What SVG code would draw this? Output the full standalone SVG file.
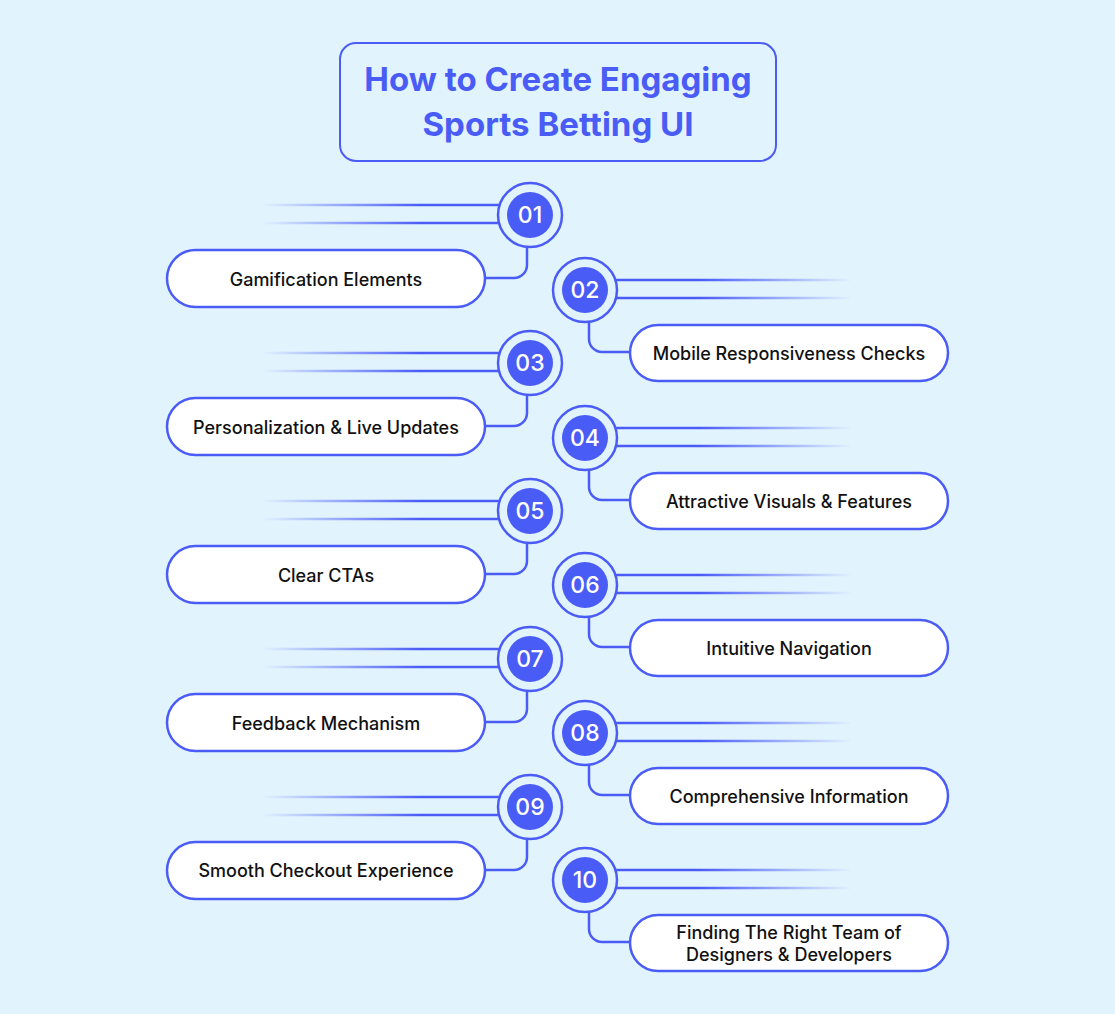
<svg xmlns="http://www.w3.org/2000/svg" width="1115" height="1014" viewBox="0 0 1115 1014">
<defs>
<linearGradient id="gl" gradientUnits="userSpaceOnUse" x1="262" y1="0" x2="420" y2="0">
<stop offset="0" stop-color="#4b5cf6" stop-opacity="0"/>
<stop offset="1" stop-color="#4b5cf6" stop-opacity="1"/>
</linearGradient>
<linearGradient id="gr" gradientUnits="userSpaceOnUse" x1="700" y1="0" x2="852" y2="0">
<stop offset="0" stop-color="#4b5cf6" stop-opacity="1"/>
<stop offset="1" stop-color="#4b5cf6" stop-opacity="0"/>
</linearGradient>
<style>
.bg{fill:#e1f3fd}
.title{font-family:Inter,"Liberation Sans",sans-serif;font-weight:700;font-size:33px;fill:#4a5cf6;text-anchor:middle}
.tbox{fill:#e1f3fd;stroke:#4b5cf6;stroke-width:2}
.pill{fill:#ffffff;stroke:#4b5cf6;stroke-width:2.5}
.lbl{font-family:Inter,"Liberation Sans",sans-serif;font-weight:500;font-size:18px;fill:#111111;text-anchor:middle;dominant-baseline:central}
.ring{fill:#e1f3fd;stroke:#4b5cf6;stroke-width:2.5}
.dot{fill:#4a5cf6}
.num{font-family:Inter,"Liberation Sans",sans-serif;font-weight:500;font-size:23px;fill:#ffffff;text-anchor:middle;dominant-baseline:central}
.ll{stroke:url(#gl);stroke-width:2.5;fill:none}
.rl{stroke:url(#gr);stroke-width:2.5;fill:none}
.conn{stroke:#4b5cf6;stroke-width:2.5;fill:none}
</style>
</defs>
<rect class="bg" x="0" y="0" width="1115" height="1014"/>
<g id="title">
<rect class="tbox" x="340" y="43" width="436" height="118" rx="16"/>
<text class="title" x="558" y="91">How to Create Engaging</text>
<text class="title" x="558" y="136">Sports Betting UI</text>
</g>
<g id="connectors">
<line class="ll" x1="262" y1="205" x2="500" y2="205"/><line class="ll" x1="262" y1="223" x2="500" y2="223"/>
<path class="conn" d="M527 247 V265 A13 13 0 0 1 514 278 H485"/>
<line class="ll" x1="262" y1="353" x2="500" y2="353"/><line class="ll" x1="262" y1="371" x2="500" y2="371"/>
<path class="conn" d="M527 395 V413 A13 13 0 0 1 514 426 H485"/>
<line class="ll" x1="262" y1="501" x2="500" y2="501"/><line class="ll" x1="262" y1="519" x2="500" y2="519"/>
<path class="conn" d="M527 543 V561 A13 13 0 0 1 514 574 H485"/>
<line class="ll" x1="262" y1="649" x2="500" y2="649"/><line class="ll" x1="262" y1="667" x2="500" y2="667"/>
<path class="conn" d="M527 691 V709 A13 13 0 0 1 514 722 H485"/>
<line class="ll" x1="262" y1="797" x2="500" y2="797"/><line class="ll" x1="262" y1="815" x2="500" y2="815"/>
<path class="conn" d="M527 839 V857 A13 13 0 0 1 514 870 H485"/>

<line class="rl" x1="615" y1="280" x2="852" y2="280"/><line class="rl" x1="615" y1="298" x2="852" y2="298"/>
<path class="conn" d="M589 322 V339 A13 13 0 0 0 602 352 H630"/>
<line class="rl" x1="615" y1="428" x2="852" y2="428"/><line class="rl" x1="615" y1="446" x2="852" y2="446"/>
<path class="conn" d="M589 470 V487 A13 13 0 0 0 602 500 H630"/>
<line class="rl" x1="615" y1="575" x2="852" y2="575"/><line class="rl" x1="615" y1="593" x2="852" y2="593"/>
<path class="conn" d="M589 617 V634 A13 13 0 0 0 602 647 H630"/>
<line class="rl" x1="615" y1="723" x2="852" y2="723"/><line class="rl" x1="615" y1="741" x2="852" y2="741"/>
<path class="conn" d="M589 765 V782 A13 13 0 0 0 602 795 H630"/>
<line class="rl" x1="615" y1="870" x2="852" y2="870"/><line class="rl" x1="615" y1="888" x2="852" y2="888"/>
<path class="conn" d="M589 912 V929 A13 13 0 0 0 602 942 H630"/>
</g>

<g id="node01">
<circle class="ring" cx="530" cy="215" r="32"/><circle class="dot" cx="530" cy="215" r="23"/><text class="num" x="530" y="215">01</text>
<rect class="pill" x="167" y="250" width="318" height="57" rx="28.5"/><text class="lbl" x="326" y="279">Gamification Elements</text>
</g>
<g id="node02">
<circle class="ring" cx="585" cy="290" r="32"/><circle class="dot" cx="585" cy="290" r="23"/><text class="num" x="585" y="290">02</text>
<rect class="pill" x="630" y="325" width="318" height="56" rx="28"/><text class="lbl" x="789" y="353">Mobile Responsiveness Checks</text>
</g>
<g id="node03">
<circle class="ring" cx="530" cy="363" r="32"/><circle class="dot" cx="530" cy="363" r="23"/><text class="num" x="530" y="363">03</text>
<rect class="pill" x="167" y="398" width="318" height="57" rx="28.5"/><text class="lbl" x="326" y="427">Personalization &amp; Live Updates</text>
</g>
<g id="node04">
<circle class="ring" cx="585" cy="438" r="32"/><circle class="dot" cx="585" cy="438" r="23"/><text class="num" x="585" y="438">04</text>
<rect class="pill" x="630" y="473" width="318" height="56" rx="28"/><text class="lbl" x="789" y="501">Attractive Visuals &amp; Features</text>
</g>
<g id="node05">
<circle class="ring" cx="530" cy="511" r="32"/><circle class="dot" cx="530" cy="511" r="23"/><text class="num" x="530" y="511">05</text>
<rect class="pill" x="167" y="546" width="318" height="57" rx="28.5"/><text class="lbl" x="326" y="575">Clear CTAs</text>
</g>
<g id="node06">
<circle class="ring" cx="585" cy="585" r="32"/><circle class="dot" cx="585" cy="585" r="23"/><text class="num" x="585" y="585">06</text>
<rect class="pill" x="630" y="620" width="318" height="56" rx="28"/><text class="lbl" x="789" y="648">Intuitive Navigation</text>
</g>
<g id="node07">
<circle class="ring" cx="530" cy="659" r="32"/><circle class="dot" cx="530" cy="659" r="23"/><text class="num" x="530" y="659">07</text>
<rect class="pill" x="167" y="694" width="318" height="57" rx="28.5"/><text class="lbl" x="326" y="723">Feedback Mechanism</text>
</g>
<g id="node08">
<circle class="ring" cx="585" cy="733" r="32"/><circle class="dot" cx="585" cy="733" r="23"/><text class="num" x="585" y="733">08</text>
<rect class="pill" x="630" y="768" width="318" height="56" rx="28"/><text class="lbl" x="789" y="796">Comprehensive Information</text>
</g>
<g id="node09">
<circle class="ring" cx="530" cy="807" r="32"/><circle class="dot" cx="530" cy="807" r="23"/><text class="num" x="530" y="807">09</text>
<rect class="pill" x="167" y="842" width="318" height="57" rx="28.5"/><text class="lbl" x="326" y="870">Smooth Checkout Experience</text>
</g>
<g id="node10">
<circle class="ring" cx="585" cy="880" r="32"/><circle class="dot" cx="585" cy="880" r="23"/><text class="num" x="585" y="880">10</text>
<rect class="pill" x="630" y="915" width="318" height="56" rx="28"/><text class="lbl" x="789" y="932">Finding The Right Team of</text><text class="lbl" x="789" y="954">Designers &amp; Developers</text>
</g>
</svg>
